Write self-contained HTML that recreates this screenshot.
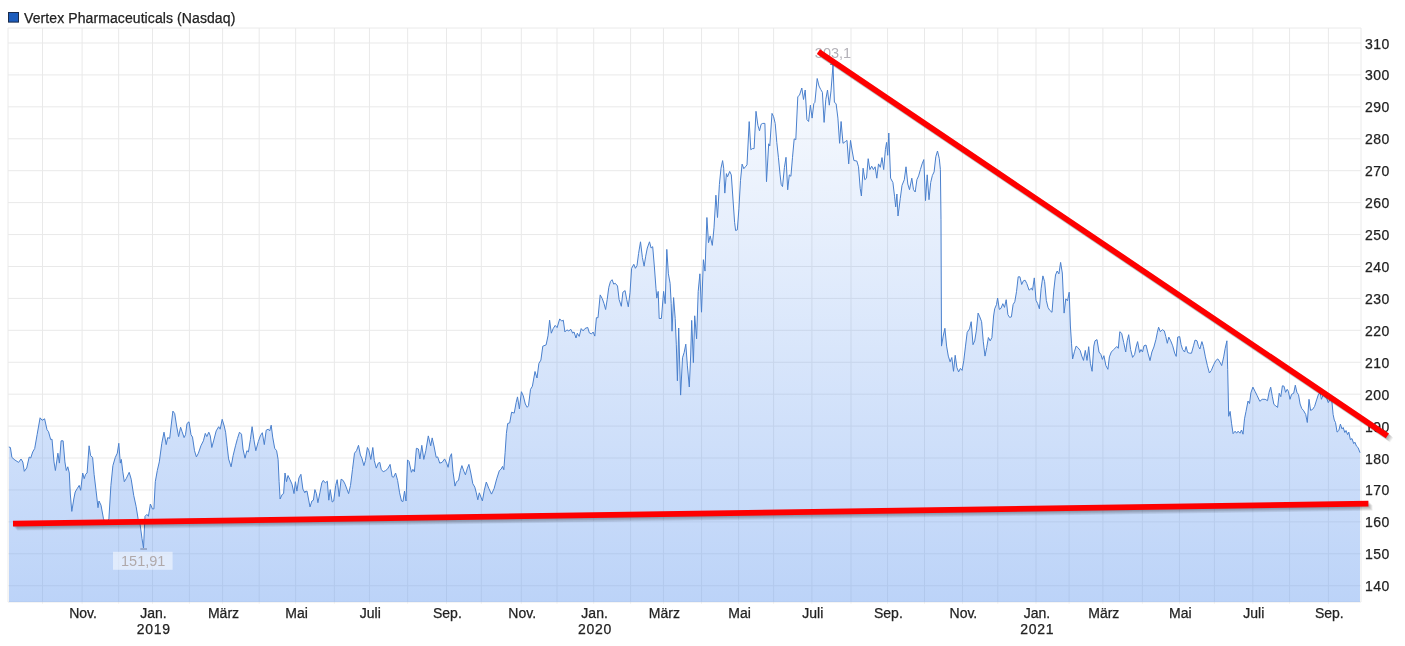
<!DOCTYPE html>
<html><head><meta charset="utf-8"><title>Vertex Pharmaceuticals (Nasdaq)</title>
<style>html,body{margin:0;padding:0;background:#fff}body{width:1405px;height:646px;overflow:hidden}svg{display:block;will-change:transform}text{font-family:"Liberation Sans",sans-serif}</style></head><body>
<svg width="1405" height="646" viewBox="0 0 1405 646">
<defs><linearGradient id="g" x1="0" y1="28" x2="0" y2="602" gradientUnits="userSpaceOnUse"><stop offset="0" stop-color="#6fa1f0" stop-opacity="0.012"/><stop offset="1" stop-color="#6fa1f0" stop-opacity="0.465"/></linearGradient>
</defs>
<rect width="1405" height="646" fill="#fff"/>
<path d="M42.5 28V603.5M82.1 28V603.5M118.65 28V603.5M152.5 28V603.5M189.4 28V603.5M222.6 28V603.5M259.2 28V603.5M295.65 28V603.5M334.35 28V603.5M369.45 28V603.5M407.65 28V603.5M446.5 28V603.5M481.3 28V603.5M521.3 28V603.5M557 28V603.5M593.7 28V603.5M630.6 28V603.5M663.45 28V603.5M701.55 28V603.5M738.6 28V603.5M773.6 28V603.5M811.9 28V603.5M851 28V603.5M887.55 28V603.5M924.5 28V603.5M962.45 28V603.5M997.8 28V603.5M1036 28V603.5M1069.1 28V603.5M1102.9 28V603.5M1142.35 28V603.5M1179.45 28V603.5M1214.4 28V603.5M1252.85 28V603.5M1289.55 28V603.5M1328.4 28V603.5M8 43.00H1361M8 74.92H1361M8 106.85H1361M8 138.78H1361M8 170.70H1361M8 202.62H1361M8 234.55H1361M8 266.48H1361M8 298.40H1361M8 330.32H1361M8 362.25H1361M8 394.18H1361M8 426.10H1361M8 458.03H1361M8 489.95H1361M8 521.88H1361M8 553.80H1361M8 585.73H1361" stroke="#e9e9e9" stroke-width="1" fill="none"/>
<path d="M8 28H1361V602H8Z" stroke="#eaeaea" stroke-width="1" fill="none"/>
<path d="M9 602 L9.0 447.0 8.9 447.0 L10.4 447.5 L11.9 457.4 L14.9 460.0 L18.6 462.4 L21.0 459.0 L22.8 462.0 L24.3 471.3 L26.7 468.0 L29.2 457.0 L30.7 458.0 L32.7 452.0 L34.7 448.5 L37.1 434.7 L40.1 417.8 L42.1 420.3 L44.6 418.8 L47.0 429.7 L48.5 431.7 L50.7 439.6 L52.0 439.2 L54.0 461.9 L55.4 470.5 L57.9 453.2 L59.4 463.1 L61.1 440.8 L63.1 440.8 L64.9 461.9 L66.3 470.5 L67.8 466.8 L69.3 473.0 L70.3 494.0 L71.8 511.4 L73.8 499.0 L75.2 492.0 L77.2 488.6 L79.2 485.4 L80.7 490.3 L82.7 473.0 L84.2 478.7 L85.6 474.3 L87.1 473.0 L88.1 459.4 L89.1 445.8 L90.6 455.7 L92.6 457.4 L94.1 474.3 L96.0 490.3 L98.0 507.7 L99.0 501.0 L101.0 505.2 L103.5 518.8 L106.0 524.0 L108.9 518.8 L110.9 485.4 L112.9 465.6 L115.3 457.4 L117.3 453.2 L118.8 443.3 L120.3 463.1 L121.3 459.4 L122.8 471.8 L124.3 481.7 L126.2 478.7 L129.2 472.3 L131.2 479.2 L133.7 495.3 L136.1 506.4 L138.1 518.8 L140.0 523.8 L142.0 538.6 L143.5 548.0 L145.0 516.3 L146.9 514.4 L148.4 516.3 L150.4 504.0 L152.4 508.9 L153.9 508.9 L155.3 481.7 L157.3 470.5 L159.3 461.9 L161.8 443.3 L164.0 432.2 L166.2 444.6 L167.7 437.6 L169.7 438.4 L171.7 421.0 L172.9 411.1 L174.7 413.6 L176.6 426.0 L178.6 436.6 L180.6 427.2 L182.1 431.7 L184.1 437.6 L185.5 434.7 L187.0 423.5 L189.0 421.8 L191.0 434.7 L192.5 437.1 L194.5 450.7 L196.4 456.9 L198.4 453.2 L200.9 445.8 L203.4 440.8 L205.3 433.4 L206.8 436.6 L208.8 432.2 L210.3 435.9 L211.8 447.5 L213.8 440.1 L216.2 430.9 L218.7 426.7 L220.2 429.2 L222.2 419.3 L224.2 426.0 L225.6 432.2 L227.1 445.8 L228.6 458.9 L231.1 466.8 L233.1 455.7 L235.5 445.8 L237.5 438.4 L239.5 432.2 L241.5 434.2 L243.0 449.0 L245.0 458.2 L246.9 450.7 L248.4 452.0 L250.4 439.6 L252.1 426.7 L253.9 439.6 L255.8 450.7 L258.3 441.6 L260.3 435.9 L262.3 432.7 L264.3 444.6 L266.2 430.2 L268.2 429.2 L269.7 430.9 L271.2 425.2 L272.7 437.1 L274.7 448.3 L276.6 450.7 L278.1 459.4 L279.1 481.7 L280.1 499.0 L282.1 494.6 L283.6 493.6 L285.0 473.0 L286.5 481.7 L288.0 475.5 L290.0 479.7 L292.0 484.2 L294.0 493.6 L295.4 481.7 L296.9 491.1 L298.9 478.0 L300.9 474.3 L302.9 489.1 L304.9 492.8 L305.0 491.6 L307.0 491.1 L308.5 499.0 L310.0 506.9 L311.9 501.0 L313.4 500.2 L314.9 489.6 L316.4 493.6 L317.9 502.7 L319.9 492.8 L321.8 482.9 L323.3 480.4 L325.3 482.9 L327.3 481.2 L328.8 500.2 L330.2 489.6 L332.2 502.0 L333.7 501.0 L335.7 485.4 L337.2 479.7 L339.2 496.5 L341.1 479.2 L343.1 480.4 L345.1 484.2 L347.1 489.6 L348.6 493.6 L350.5 485.4 L352.5 469.3 L354.5 453.2 L356.5 450.7 L358.5 445.3 L360.4 455.0 L361.9 458.2 L363.9 465.6 L365.4 460.6 L367.4 447.5 L368.9 450.7 L370.8 459.4 L372.8 447.5 L374.3 460.6 L376.3 468.1 L378.3 463.1 L379.8 462.4 L381.2 469.3 L383.2 471.8 L385.7 470.5 L387.7 468.8 L390.1 464.4 L392.1 476.7 L393.6 477.2 L395.6 473.0 L397.6 480.4 L399.6 492.8 L401.5 501.0 L403.0 501.5 L404.5 491.1 L406.0 501.0 L407.5 459.9 L409.0 461.4 L411.4 472.3 L412.9 469.3 L414.4 471.8 L416.4 448.3 L418.4 449.0 L419.9 458.9 L421.8 445.3 L423.8 459.4 L425.8 450.7 L428.3 435.9 L430.7 445.8 L432.2 437.9 L434.2 447.0 L436.2 457.4 L437.7 456.9 L439.7 463.1 L442.1 462.4 L444.6 458.9 L446.6 463.1 L448.1 467.3 L450.0 456.9 L451.5 453.7 L453.0 471.8 L455.0 486.1 L456.5 481.7 L458.5 480.4 L460.4 470.5 L461.9 465.6 L463.9 471.3 L465.4 474.8 L467.4 468.1 L468.9 464.4 L470.8 473.0 L472.8 483.7 L474.8 487.1 L476.3 492.8 L477.8 499.8 L479.3 492.8 L482.4 500.9 L484.3 490.2 L486.3 482.0 L488.9 488.6 L491.5 494.1 L494.1 488.6 L496.7 478.8 L499.3 470.7 L501.2 469.0 L502.5 466.4 L503.8 469.7 L505.1 452.8 L506.4 433.3 L507.7 423.5 L509.7 422.9 L511.6 412.2 L514.2 413.1 L516.2 402.4 L517.5 396.9 L519.4 408.9 L521.4 391.7 L523.3 395.9 L525.3 404.0 L527.2 407.3 L528.5 405.7 L530.5 389.4 L532.4 386.2 L535.0 371.5 L537.0 378.0 L538.9 363.4 L540.9 360.1 L542.8 346.2 L546.1 344.9 L548.0 335.8 L549.6 320.2 L551.3 333.2 L553.2 328.6 L555.2 325.4 L557.1 327.6 L559.7 318.9 L561.7 321.1 L563.3 320.2 L564.9 331.9 L566.9 329.9 L568.8 330.9 L570.8 329.3 L572.7 333.2 L574.0 331.9 L576.0 338.0 L577.3 333.2 L579.2 336.4 L581.2 328.6 L583.1 330.9 L585.0 328.5 L587.7 327.4 L589.3 332.8 L591.5 333.9 L593.1 332.0 L594.8 336.1 L596.4 317.7 L598.0 317.7 L600.2 294.9 L602.3 298.7 L604.0 303.6 L605.6 309.5 L607.2 299.5 L608.8 287.3 L610.5 281.4 L612.1 279.7 L613.7 284.1 L615.3 283.3 L617.5 286.0 L619.1 299.5 L621.3 306.3 L622.9 292.2 L625.1 290.6 L626.7 299.5 L628.3 306.8 L630.0 292.7 L631.6 268.3 L633.8 264.3 L635.4 268.3 L637.0 265.6 L638.6 253.4 L640.5 241.8 L642.4 257.5 L644.1 266.2 L645.7 256.2 L647.3 248.0 L649.5 241.8 L651.1 248.0 L652.7 246.7 L654.4 267.0 L656.0 288.7 L656.8 298.1 L658.2 291.4 L659.2 318.5 L661.4 318.5 L663.6 291.4 L665.2 303.6 L666.8 249.4 L668.4 273.8 L670.1 283.3 L671.2 303.6 L672.0 331.2 L673.6 297.6 L675.2 318.5 L676.3 344.2 L677.4 380.8 L678.7 328.0 L680.6 395.1 L682.5 357.8 L684.2 352.3 L685.8 344.2 L687.4 365.9 L689.3 387.0 L690.7 355.0 L691.7 320.4 L693.4 362.6 L694.7 315.8 L696.6 338.8 L698.2 291.4 L699.9 273.8 L701.5 312.2 L703.4 259.7 L705.0 271.1 L706.9 217.5 L708.5 242.7 L710.2 235.9 L712.3 245.4 L714.0 227.8 L715.9 195.2 L717.5 217.5 L719.4 184.4 L721.0 168.2 L722.6 160.6 L723.7 168.2 L724.8 193.1 L726.4 173.6 L727.5 176.8 L729.7 171.4 L731.3 174.9 L732.9 198.0 L734.6 222.3 L735.6 230.5 L737.3 229.9 L738.9 208.8 L740.5 180.3 L742.1 164.1 L743.8 168.7 L745.4 166.8 L747.0 164.9 L749.2 121.6 L750.8 149.7 L752.4 148.6 L754.1 148.6 L756.0 111.3 L757.9 125.3 L759.5 130.8 L761.1 124.3 L762.7 123.4 L764.9 123.4 L766.5 181.7 L768.7 143.8 L769.8 145.9 L772.0 113.4 L773.6 116.7 L775.2 123.4 L776.8 142.4 L778.4 157.3 L780.1 174.9 L781.2 184.4 L782.5 186.6 L784.4 167.6 L786.0 157.3 L787.7 189.8 L789.3 174.9 L790.9 176.3 L792.5 157.3 L794.2 138.9 L795.8 139.7 L797.8 96.6 L799.5 95.2 L801.8 88.0 L803.5 99.5 L805.2 90.0 L806.9 119.5 L808.6 121.5 L810.4 105.2 L812.1 118.1 L813.8 103.7 L814.9 102.3 L817.2 78.5 L819.0 86.0 L820.7 89.4 L822.4 92.3 L824.1 122.4 L825.8 99.5 L827.5 90.0 L829.3 105.2 L831.0 90.9 L833.0 65.1 L834.4 102.3 L836.1 103.7 L837.9 118.1 L839.6 143.3 L841.1 121.5 L843.0 143.3 L845.3 141.6 L847.0 140.4 L848.7 163.9 L850.5 140.4 L852.2 151.0 L853.9 160.5 L856.8 161.0 L858.5 166.8 L860.2 188.3 L861.4 196.0 L863.1 168.2 L864.8 179.7 L866.5 178.2 L868.2 158.7 L869.9 169.6 L871.7 166.2 L873.4 169.6 L875.1 166.8 L876.8 178.2 L878.5 163.9 L880.3 167.3 L882.0 157.6 L883.7 169.6 L885.4 149.6 L886.6 142.4 L887.7 155.3 L888.8 133.0 L890.6 178.2 L892.9 182.5 L894.6 196.8 L895.7 206.9 L896.9 194.0 L898.0 216.0 L900.3 198.3 L902.0 185.4 L904.3 179.7 L906.0 166.8 L907.8 184.0 L909.5 189.7 L911.8 178.2 L913.5 189.7 L915.2 192.0 L916.9 179.7 L918.6 175.9 L920.4 169.6 L922.1 163.9 L923.8 159.6 L925.5 200.6 L927.2 174.8 L929.0 199.7 L930.7 182.5 L932.4 175.4 L934.1 171.9 L935.8 156.7 L937.5 151.0 L939.3 158.7 L940.4 169.6 L941.0 219.8 L941.5 346.1 L943.2 336.1 L944.9 328.3 L946.6 346.1 L948.3 356.1 L950.1 361.8 L951.8 357.5 L953.5 371.3 L955.2 355.3 L956.9 367.6 L958.6 371.9 L960.4 368.4 L962.1 370.4 L963.8 360.4 L965.5 346.1 L967.2 332.3 L969.5 328.9 L971.2 321.7 L973.0 344.7 L974.7 340.9 L976.4 330.3 L978.1 313.1 L979.8 316.9 L981.6 321.7 L983.3 341.8 L985.0 356.1 L986.7 347.5 L988.4 337.5 L990.2 340.9 L991.9 337.5 L993.6 316.0 L994.7 308.8 L996.5 304.6 L997.6 298.0 L999.3 309.4 L1001.0 308.3 L1002.8 303.7 L1004.5 307.4 L1006.2 299.7 L1007.9 314.6 L1009.6 317.4 L1011.4 316.9 L1013.1 304.6 L1014.8 301.7 L1016.5 291.7 L1018.2 276.8 L1019.9 276.8 L1021.7 284.5 L1023.4 280.8 L1025.1 280.2 L1026.8 283.6 L1029.1 290.2 L1031.4 288.2 L1032.5 290.2 L1034.3 277.9 L1036.0 300.3 L1037.7 303.7 L1039.4 308.8 L1041.1 288.8 L1042.9 275.9 L1044.6 281.6 L1046.3 300.3 L1048.0 307.4 L1049.7 310.3 L1052.0 312.3 L1053.7 291.1 L1055.5 275.0 L1057.2 271.0 L1058.9 273.9 L1060.6 262.4 L1062.3 273.0 L1064.1 313.1 L1065.8 298.8 L1067.5 300.8 L1069.2 292.2 L1070.4 326.0 L1071.5 343.2 L1072.6 359.0 L1074.4 351.8 L1076.1 346.1 L1077.8 347.5 L1080.1 350.4 L1081.8 356.1 L1083.5 360.4 L1085.3 350.4 L1087.0 360.4 L1088.7 346.7 L1090.4 363.3 L1092.1 371.3 L1093.8 346.1 L1095.0 340.8 L1097.0 339.6 L1099.0 352.0 L1100.9 354.5 L1102.4 359.4 L1103.9 355.7 L1105.9 365.6 L1107.9 369.3 L1109.4 356.9 L1111.3 352.0 L1113.8 349.5 L1116.8 346.5 L1118.3 348.3 L1119.8 331.7 L1121.7 333.4 L1123.7 342.6 L1125.7 352.0 L1127.2 340.8 L1128.7 334.7 L1130.6 349.5 L1132.6 357.4 L1134.6 354.5 L1136.1 347.0 L1137.6 341.6 L1139.6 352.5 L1141.0 349.5 L1142.5 352.0 L1144.0 345.8 L1146.0 345.0 L1148.0 353.2 L1150.0 360.6 L1151.9 352.0 L1153.9 347.0 L1155.9 339.6 L1157.4 332.2 L1158.6 327.2 L1160.3 331.7 L1162.3 329.7 L1164.3 330.9 L1165.8 336.6 L1167.3 343.3 L1168.8 337.1 L1170.7 340.8 L1172.7 345.8 L1174.7 353.2 L1176.2 356.4 L1177.7 337.1 L1179.7 336.6 L1181.1 344.6 L1182.6 349.5 L1184.6 352.0 L1186.1 346.5 L1187.6 352.5 L1189.6 353.2 L1191.5 353.2 L1193.5 345.8 L1195.0 340.1 L1197.0 340.8 L1198.5 346.5 L1199.9 349.0 L1201.9 341.6 L1203.4 346.5 L1205.4 356.9 L1207.4 365.6 L1209.4 373.0 L1211.3 370.5 L1213.8 364.4 L1215.8 360.6 L1217.8 358.9 L1219.8 361.9 L1221.7 365.6 L1223.7 356.9 L1225.2 348.3 L1226.9 340.8 L1227.7 369.3 L1228.7 416.3 L1230.1 411.4 L1231.6 423.8 L1233.1 433.7 L1235.1 431.2 L1236.6 433.2 L1238.1 431.2 L1240.0 433.2 L1241.5 430.0 L1243.0 434.2 L1244.5 418.8 L1246.0 411.4 L1248.0 401.0 L1249.5 403.5 L1250.9 392.8 L1252.9 387.1 L1255.0 391.3 L1257.0 395.3 L1259.8 401.3 L1262.2 399.3 L1265.1 399.3 L1267.5 400.7 L1269.1 392.3 L1270.7 387.2 L1272.3 396.3 L1273.9 404.4 L1275.9 406.0 L1277.6 407.4 L1279.2 393.3 L1280.8 396.7 L1282.4 385.8 L1284.0 386.2 L1285.6 392.3 L1287.2 389.3 L1288.4 391.3 L1290.0 399.3 L1291.6 394.3 L1293.7 393.3 L1295.3 385.2 L1296.9 392.3 L1298.5 394.7 L1300.1 404.0 L1301.7 408.4 L1303.7 410.8 L1305.7 414.4 L1307.3 422.5 L1309.0 399.3 L1310.6 410.4 L1312.6 409.4 L1314.6 406.4 L1316.6 399.9 L1318.6 393.9 L1320.2 392.7 L1321.4 399.3 L1323.0 395.3 L1324.8 396.0 L1326.7 398.3 L1328.3 402.7 L1329.9 399.3 L1331.9 401.3 L1333.1 414.4 L1334.3 420.1 L1335.5 422.5 L1337.1 432.1 L1338.8 430.5 L1340.4 424.1 L1342.0 428.9 L1343.2 427.5 L1344.8 432.5 L1346.0 430.5 L1347.6 434.6 L1348.8 432.1 L1350.4 439.6 L1352.0 438.6 L1353.7 443.6 L1354.9 442.2 L1356.5 446.2 L1358.1 447.6 L1360.0 452.7 L1360.0 602 Z" fill="url(#g)"/>
<path d="M9 447.0 L8.9 447.0 L10.4 447.5 L11.9 457.4 L14.9 460.0 L18.6 462.4 L21.0 459.0 L22.8 462.0 L24.3 471.3 L26.7 468.0 L29.2 457.0 L30.7 458.0 L32.7 452.0 L34.7 448.5 L37.1 434.7 L40.1 417.8 L42.1 420.3 L44.6 418.8 L47.0 429.7 L48.5 431.7 L50.7 439.6 L52.0 439.2 L54.0 461.9 L55.4 470.5 L57.9 453.2 L59.4 463.1 L61.1 440.8 L63.1 440.8 L64.9 461.9 L66.3 470.5 L67.8 466.8 L69.3 473.0 L70.3 494.0 L71.8 511.4 L73.8 499.0 L75.2 492.0 L77.2 488.6 L79.2 485.4 L80.7 490.3 L82.7 473.0 L84.2 478.7 L85.6 474.3 L87.1 473.0 L88.1 459.4 L89.1 445.8 L90.6 455.7 L92.6 457.4 L94.1 474.3 L96.0 490.3 L98.0 507.7 L99.0 501.0 L101.0 505.2 L103.5 518.8 L106.0 524.0 L108.9 518.8 L110.9 485.4 L112.9 465.6 L115.3 457.4 L117.3 453.2 L118.8 443.3 L120.3 463.1 L121.3 459.4 L122.8 471.8 L124.3 481.7 L126.2 478.7 L129.2 472.3 L131.2 479.2 L133.7 495.3 L136.1 506.4 L138.1 518.8 L140.0 523.8 L142.0 538.6 L143.5 548.0 L145.0 516.3 L146.9 514.4 L148.4 516.3 L150.4 504.0 L152.4 508.9 L153.9 508.9 L155.3 481.7 L157.3 470.5 L159.3 461.9 L161.8 443.3 L164.0 432.2 L166.2 444.6 L167.7 437.6 L169.7 438.4 L171.7 421.0 L172.9 411.1 L174.7 413.6 L176.6 426.0 L178.6 436.6 L180.6 427.2 L182.1 431.7 L184.1 437.6 L185.5 434.7 L187.0 423.5 L189.0 421.8 L191.0 434.7 L192.5 437.1 L194.5 450.7 L196.4 456.9 L198.4 453.2 L200.9 445.8 L203.4 440.8 L205.3 433.4 L206.8 436.6 L208.8 432.2 L210.3 435.9 L211.8 447.5 L213.8 440.1 L216.2 430.9 L218.7 426.7 L220.2 429.2 L222.2 419.3 L224.2 426.0 L225.6 432.2 L227.1 445.8 L228.6 458.9 L231.1 466.8 L233.1 455.7 L235.5 445.8 L237.5 438.4 L239.5 432.2 L241.5 434.2 L243.0 449.0 L245.0 458.2 L246.9 450.7 L248.4 452.0 L250.4 439.6 L252.1 426.7 L253.9 439.6 L255.8 450.7 L258.3 441.6 L260.3 435.9 L262.3 432.7 L264.3 444.6 L266.2 430.2 L268.2 429.2 L269.7 430.9 L271.2 425.2 L272.7 437.1 L274.7 448.3 L276.6 450.7 L278.1 459.4 L279.1 481.7 L280.1 499.0 L282.1 494.6 L283.6 493.6 L285.0 473.0 L286.5 481.7 L288.0 475.5 L290.0 479.7 L292.0 484.2 L294.0 493.6 L295.4 481.7 L296.9 491.1 L298.9 478.0 L300.9 474.3 L302.9 489.1 L304.9 492.8 L305.0 491.6 L307.0 491.1 L308.5 499.0 L310.0 506.9 L311.9 501.0 L313.4 500.2 L314.9 489.6 L316.4 493.6 L317.9 502.7 L319.9 492.8 L321.8 482.9 L323.3 480.4 L325.3 482.9 L327.3 481.2 L328.8 500.2 L330.2 489.6 L332.2 502.0 L333.7 501.0 L335.7 485.4 L337.2 479.7 L339.2 496.5 L341.1 479.2 L343.1 480.4 L345.1 484.2 L347.1 489.6 L348.6 493.6 L350.5 485.4 L352.5 469.3 L354.5 453.2 L356.5 450.7 L358.5 445.3 L360.4 455.0 L361.9 458.2 L363.9 465.6 L365.4 460.6 L367.4 447.5 L368.9 450.7 L370.8 459.4 L372.8 447.5 L374.3 460.6 L376.3 468.1 L378.3 463.1 L379.8 462.4 L381.2 469.3 L383.2 471.8 L385.7 470.5 L387.7 468.8 L390.1 464.4 L392.1 476.7 L393.6 477.2 L395.6 473.0 L397.6 480.4 L399.6 492.8 L401.5 501.0 L403.0 501.5 L404.5 491.1 L406.0 501.0 L407.5 459.9 L409.0 461.4 L411.4 472.3 L412.9 469.3 L414.4 471.8 L416.4 448.3 L418.4 449.0 L419.9 458.9 L421.8 445.3 L423.8 459.4 L425.8 450.7 L428.3 435.9 L430.7 445.8 L432.2 437.9 L434.2 447.0 L436.2 457.4 L437.7 456.9 L439.7 463.1 L442.1 462.4 L444.6 458.9 L446.6 463.1 L448.1 467.3 L450.0 456.9 L451.5 453.7 L453.0 471.8 L455.0 486.1 L456.5 481.7 L458.5 480.4 L460.4 470.5 L461.9 465.6 L463.9 471.3 L465.4 474.8 L467.4 468.1 L468.9 464.4 L470.8 473.0 L472.8 483.7 L474.8 487.1 L476.3 492.8 L477.8 499.8 L479.3 492.8 L482.4 500.9 L484.3 490.2 L486.3 482.0 L488.9 488.6 L491.5 494.1 L494.1 488.6 L496.7 478.8 L499.3 470.7 L501.2 469.0 L502.5 466.4 L503.8 469.7 L505.1 452.8 L506.4 433.3 L507.7 423.5 L509.7 422.9 L511.6 412.2 L514.2 413.1 L516.2 402.4 L517.5 396.9 L519.4 408.9 L521.4 391.7 L523.3 395.9 L525.3 404.0 L527.2 407.3 L528.5 405.7 L530.5 389.4 L532.4 386.2 L535.0 371.5 L537.0 378.0 L538.9 363.4 L540.9 360.1 L542.8 346.2 L546.1 344.9 L548.0 335.8 L549.6 320.2 L551.3 333.2 L553.2 328.6 L555.2 325.4 L557.1 327.6 L559.7 318.9 L561.7 321.1 L563.3 320.2 L564.9 331.9 L566.9 329.9 L568.8 330.9 L570.8 329.3 L572.7 333.2 L574.0 331.9 L576.0 338.0 L577.3 333.2 L579.2 336.4 L581.2 328.6 L583.1 330.9 L585.0 328.5 L587.7 327.4 L589.3 332.8 L591.5 333.9 L593.1 332.0 L594.8 336.1 L596.4 317.7 L598.0 317.7 L600.2 294.9 L602.3 298.7 L604.0 303.6 L605.6 309.5 L607.2 299.5 L608.8 287.3 L610.5 281.4 L612.1 279.7 L613.7 284.1 L615.3 283.3 L617.5 286.0 L619.1 299.5 L621.3 306.3 L622.9 292.2 L625.1 290.6 L626.7 299.5 L628.3 306.8 L630.0 292.7 L631.6 268.3 L633.8 264.3 L635.4 268.3 L637.0 265.6 L638.6 253.4 L640.5 241.8 L642.4 257.5 L644.1 266.2 L645.7 256.2 L647.3 248.0 L649.5 241.8 L651.1 248.0 L652.7 246.7 L654.4 267.0 L656.0 288.7 L656.8 298.1 L658.2 291.4 L659.2 318.5 L661.4 318.5 L663.6 291.4 L665.2 303.6 L666.8 249.4 L668.4 273.8 L670.1 283.3 L671.2 303.6 L672.0 331.2 L673.6 297.6 L675.2 318.5 L676.3 344.2 L677.4 380.8 L678.7 328.0 L680.6 395.1 L682.5 357.8 L684.2 352.3 L685.8 344.2 L687.4 365.9 L689.3 387.0 L690.7 355.0 L691.7 320.4 L693.4 362.6 L694.7 315.8 L696.6 338.8 L698.2 291.4 L699.9 273.8 L701.5 312.2 L703.4 259.7 L705.0 271.1 L706.9 217.5 L708.5 242.7 L710.2 235.9 L712.3 245.4 L714.0 227.8 L715.9 195.2 L717.5 217.5 L719.4 184.4 L721.0 168.2 L722.6 160.6 L723.7 168.2 L724.8 193.1 L726.4 173.6 L727.5 176.8 L729.7 171.4 L731.3 174.9 L732.9 198.0 L734.6 222.3 L735.6 230.5 L737.3 229.9 L738.9 208.8 L740.5 180.3 L742.1 164.1 L743.8 168.7 L745.4 166.8 L747.0 164.9 L749.2 121.6 L750.8 149.7 L752.4 148.6 L754.1 148.6 L756.0 111.3 L757.9 125.3 L759.5 130.8 L761.1 124.3 L762.7 123.4 L764.9 123.4 L766.5 181.7 L768.7 143.8 L769.8 145.9 L772.0 113.4 L773.6 116.7 L775.2 123.4 L776.8 142.4 L778.4 157.3 L780.1 174.9 L781.2 184.4 L782.5 186.6 L784.4 167.6 L786.0 157.3 L787.7 189.8 L789.3 174.9 L790.9 176.3 L792.5 157.3 L794.2 138.9 L795.8 139.7 L797.8 96.6 L799.5 95.2 L801.8 88.0 L803.5 99.5 L805.2 90.0 L806.9 119.5 L808.6 121.5 L810.4 105.2 L812.1 118.1 L813.8 103.7 L814.9 102.3 L817.2 78.5 L819.0 86.0 L820.7 89.4 L822.4 92.3 L824.1 122.4 L825.8 99.5 L827.5 90.0 L829.3 105.2 L831.0 90.9 L833.0 65.1 L834.4 102.3 L836.1 103.7 L837.9 118.1 L839.6 143.3 L841.1 121.5 L843.0 143.3 L845.3 141.6 L847.0 140.4 L848.7 163.9 L850.5 140.4 L852.2 151.0 L853.9 160.5 L856.8 161.0 L858.5 166.8 L860.2 188.3 L861.4 196.0 L863.1 168.2 L864.8 179.7 L866.5 178.2 L868.2 158.7 L869.9 169.6 L871.7 166.2 L873.4 169.6 L875.1 166.8 L876.8 178.2 L878.5 163.9 L880.3 167.3 L882.0 157.6 L883.7 169.6 L885.4 149.6 L886.6 142.4 L887.7 155.3 L888.8 133.0 L890.6 178.2 L892.9 182.5 L894.6 196.8 L895.7 206.9 L896.9 194.0 L898.0 216.0 L900.3 198.3 L902.0 185.4 L904.3 179.7 L906.0 166.8 L907.8 184.0 L909.5 189.7 L911.8 178.2 L913.5 189.7 L915.2 192.0 L916.9 179.7 L918.6 175.9 L920.4 169.6 L922.1 163.9 L923.8 159.6 L925.5 200.6 L927.2 174.8 L929.0 199.7 L930.7 182.5 L932.4 175.4 L934.1 171.9 L935.8 156.7 L937.5 151.0 L939.3 158.7 L940.4 169.6 L941.0 219.8 L941.5 346.1 L943.2 336.1 L944.9 328.3 L946.6 346.1 L948.3 356.1 L950.1 361.8 L951.8 357.5 L953.5 371.3 L955.2 355.3 L956.9 367.6 L958.6 371.9 L960.4 368.4 L962.1 370.4 L963.8 360.4 L965.5 346.1 L967.2 332.3 L969.5 328.9 L971.2 321.7 L973.0 344.7 L974.7 340.9 L976.4 330.3 L978.1 313.1 L979.8 316.9 L981.6 321.7 L983.3 341.8 L985.0 356.1 L986.7 347.5 L988.4 337.5 L990.2 340.9 L991.9 337.5 L993.6 316.0 L994.7 308.8 L996.5 304.6 L997.6 298.0 L999.3 309.4 L1001.0 308.3 L1002.8 303.7 L1004.5 307.4 L1006.2 299.7 L1007.9 314.6 L1009.6 317.4 L1011.4 316.9 L1013.1 304.6 L1014.8 301.7 L1016.5 291.7 L1018.2 276.8 L1019.9 276.8 L1021.7 284.5 L1023.4 280.8 L1025.1 280.2 L1026.8 283.6 L1029.1 290.2 L1031.4 288.2 L1032.5 290.2 L1034.3 277.9 L1036.0 300.3 L1037.7 303.7 L1039.4 308.8 L1041.1 288.8 L1042.9 275.9 L1044.6 281.6 L1046.3 300.3 L1048.0 307.4 L1049.7 310.3 L1052.0 312.3 L1053.7 291.1 L1055.5 275.0 L1057.2 271.0 L1058.9 273.9 L1060.6 262.4 L1062.3 273.0 L1064.1 313.1 L1065.8 298.8 L1067.5 300.8 L1069.2 292.2 L1070.4 326.0 L1071.5 343.2 L1072.6 359.0 L1074.4 351.8 L1076.1 346.1 L1077.8 347.5 L1080.1 350.4 L1081.8 356.1 L1083.5 360.4 L1085.3 350.4 L1087.0 360.4 L1088.7 346.7 L1090.4 363.3 L1092.1 371.3 L1093.8 346.1 L1095.0 340.8 L1097.0 339.6 L1099.0 352.0 L1100.9 354.5 L1102.4 359.4 L1103.9 355.7 L1105.9 365.6 L1107.9 369.3 L1109.4 356.9 L1111.3 352.0 L1113.8 349.5 L1116.8 346.5 L1118.3 348.3 L1119.8 331.7 L1121.7 333.4 L1123.7 342.6 L1125.7 352.0 L1127.2 340.8 L1128.7 334.7 L1130.6 349.5 L1132.6 357.4 L1134.6 354.5 L1136.1 347.0 L1137.6 341.6 L1139.6 352.5 L1141.0 349.5 L1142.5 352.0 L1144.0 345.8 L1146.0 345.0 L1148.0 353.2 L1150.0 360.6 L1151.9 352.0 L1153.9 347.0 L1155.9 339.6 L1157.4 332.2 L1158.6 327.2 L1160.3 331.7 L1162.3 329.7 L1164.3 330.9 L1165.8 336.6 L1167.3 343.3 L1168.8 337.1 L1170.7 340.8 L1172.7 345.8 L1174.7 353.2 L1176.2 356.4 L1177.7 337.1 L1179.7 336.6 L1181.1 344.6 L1182.6 349.5 L1184.6 352.0 L1186.1 346.5 L1187.6 352.5 L1189.6 353.2 L1191.5 353.2 L1193.5 345.8 L1195.0 340.1 L1197.0 340.8 L1198.5 346.5 L1199.9 349.0 L1201.9 341.6 L1203.4 346.5 L1205.4 356.9 L1207.4 365.6 L1209.4 373.0 L1211.3 370.5 L1213.8 364.4 L1215.8 360.6 L1217.8 358.9 L1219.8 361.9 L1221.7 365.6 L1223.7 356.9 L1225.2 348.3 L1226.9 340.8 L1227.7 369.3 L1228.7 416.3 L1230.1 411.4 L1231.6 423.8 L1233.1 433.7 L1235.1 431.2 L1236.6 433.2 L1238.1 431.2 L1240.0 433.2 L1241.5 430.0 L1243.0 434.2 L1244.5 418.8 L1246.0 411.4 L1248.0 401.0 L1249.5 403.5 L1250.9 392.8 L1252.9 387.1 L1255.0 391.3 L1257.0 395.3 L1259.8 401.3 L1262.2 399.3 L1265.1 399.3 L1267.5 400.7 L1269.1 392.3 L1270.7 387.2 L1272.3 396.3 L1273.9 404.4 L1275.9 406.0 L1277.6 407.4 L1279.2 393.3 L1280.8 396.7 L1282.4 385.8 L1284.0 386.2 L1285.6 392.3 L1287.2 389.3 L1288.4 391.3 L1290.0 399.3 L1291.6 394.3 L1293.7 393.3 L1295.3 385.2 L1296.9 392.3 L1298.5 394.7 L1300.1 404.0 L1301.7 408.4 L1303.7 410.8 L1305.7 414.4 L1307.3 422.5 L1309.0 399.3 L1310.6 410.4 L1312.6 409.4 L1314.6 406.4 L1316.6 399.9 L1318.6 393.9 L1320.2 392.7 L1321.4 399.3 L1323.0 395.3 L1324.8 396.0 L1326.7 398.3 L1328.3 402.7 L1329.9 399.3 L1331.9 401.3 L1333.1 414.4 L1334.3 420.1 L1335.5 422.5 L1337.1 432.1 L1338.8 430.5 L1340.4 424.1 L1342.0 428.9 L1343.2 427.5 L1344.8 432.5 L1346.0 430.5 L1347.6 434.6 L1348.8 432.1 L1350.4 439.6 L1352.0 438.6 L1353.7 443.6 L1354.9 442.2 L1356.5 446.2 L1358.1 447.6 L1360.0 452.7" fill="none" stroke="#4a80cd" stroke-width="1" stroke-linejoin="round"/>
<path d="M140.3 549H147M830 64.3H836.7" stroke="#6f7f9f" stroke-width="1.1"/>
<rect x="113" y="551.8" width="59.6" height="18" fill="#fff" fill-opacity="0.5"/>
<text x="143.2" y="565.7" font-size="14.5" fill="#b0a9aa" text-anchor="middle">151,91</text>
<text x="833" y="58.4" font-size="14.5" fill="#b3b1b8" text-anchor="middle">303,1</text>
<text x="1365.1" y="48.5" font-size="14" fill="#222" textLength="24.3" lengthAdjust="spacing" stroke="#222" stroke-width="0.25">310</text>
<text x="1365.1" y="80.4" font-size="14" fill="#222" textLength="24.3" lengthAdjust="spacing" stroke="#222" stroke-width="0.25">300</text>
<text x="1365.1" y="112.3" font-size="14" fill="#222" textLength="24.3" lengthAdjust="spacing" stroke="#222" stroke-width="0.25">290</text>
<text x="1365.1" y="144.3" font-size="14" fill="#222" textLength="24.3" lengthAdjust="spacing" stroke="#222" stroke-width="0.25">280</text>
<text x="1365.1" y="176.2" font-size="14" fill="#222" textLength="24.3" lengthAdjust="spacing" stroke="#222" stroke-width="0.25">270</text>
<text x="1365.1" y="208.1" font-size="14" fill="#222" textLength="24.3" lengthAdjust="spacing" stroke="#222" stroke-width="0.25">260</text>
<text x="1365.1" y="240.1" font-size="14" fill="#222" textLength="24.3" lengthAdjust="spacing" stroke="#222" stroke-width="0.25">250</text>
<text x="1365.1" y="272.0" font-size="14" fill="#222" textLength="24.3" lengthAdjust="spacing" stroke="#222" stroke-width="0.25">240</text>
<text x="1365.1" y="303.9" font-size="14" fill="#222" textLength="24.3" lengthAdjust="spacing" stroke="#222" stroke-width="0.25">230</text>
<text x="1365.1" y="335.8" font-size="14" fill="#222" textLength="24.3" lengthAdjust="spacing" stroke="#222" stroke-width="0.25">220</text>
<text x="1365.1" y="367.8" font-size="14" fill="#222" textLength="24.3" lengthAdjust="spacing" stroke="#222" stroke-width="0.25">210</text>
<text x="1365.1" y="399.7" font-size="14" fill="#222" textLength="24.3" lengthAdjust="spacing" stroke="#222" stroke-width="0.25">200</text>
<text x="1365.1" y="431.6" font-size="14" fill="#222" textLength="24.3" lengthAdjust="spacing" stroke="#222" stroke-width="0.25">190</text>
<text x="1365.1" y="463.5" font-size="14" fill="#222" textLength="24.3" lengthAdjust="spacing" stroke="#222" stroke-width="0.25">180</text>
<text x="1365.1" y="495.4" font-size="14" fill="#222" textLength="24.3" lengthAdjust="spacing" stroke="#222" stroke-width="0.25">170</text>
<text x="1365.1" y="527.4" font-size="14" fill="#222" textLength="24.3" lengthAdjust="spacing" stroke="#222" stroke-width="0.25">160</text>
<text x="1365.1" y="559.3" font-size="14" fill="#222" textLength="24.3" lengthAdjust="spacing" stroke="#222" stroke-width="0.25">150</text>
<text x="1365.1" y="591.2" font-size="14" fill="#222" textLength="24.3" lengthAdjust="spacing" stroke="#222" stroke-width="0.25">140</text>
<text x="83.0" y="618" font-size="14" fill="#222" text-anchor="middle" stroke="#222" stroke-width="0.25">Nov.</text>
<text x="153.4" y="618" font-size="14" fill="#222" text-anchor="middle" stroke="#222" stroke-width="0.25">Jan.</text>
<text x="153.4" y="634.1" font-size="14" fill="#222" text-anchor="middle" textLength="33.2" lengthAdjust="spacing" stroke="#222" stroke-width="0.25">2019</text>
<text x="223.5" y="618" font-size="14" fill="#222" text-anchor="middle" stroke="#222" stroke-width="0.25">März</text>
<text x="296.5" y="618" font-size="14" fill="#222" text-anchor="middle" stroke="#222" stroke-width="0.25">Mai</text>
<text x="370.3" y="618" font-size="14" fill="#222" text-anchor="middle" stroke="#222" stroke-width="0.25">Juli</text>
<text x="447.4" y="618" font-size="14" fill="#222" text-anchor="middle" stroke="#222" stroke-width="0.25">Sep.</text>
<text x="522.2" y="618" font-size="14" fill="#222" text-anchor="middle" stroke="#222" stroke-width="0.25">Nov.</text>
<text x="594.6" y="618" font-size="14" fill="#222" text-anchor="middle" stroke="#222" stroke-width="0.25">Jan.</text>
<text x="594.6" y="634.1" font-size="14" fill="#222" text-anchor="middle" textLength="33.2" lengthAdjust="spacing" stroke="#222" stroke-width="0.25">2020</text>
<text x="664.4" y="618" font-size="14" fill="#222" text-anchor="middle" stroke="#222" stroke-width="0.25">März</text>
<text x="739.5" y="618" font-size="14" fill="#222" text-anchor="middle" stroke="#222" stroke-width="0.25">Mai</text>
<text x="812.8" y="618" font-size="14" fill="#222" text-anchor="middle" stroke="#222" stroke-width="0.25">Juli</text>
<text x="888.4" y="618" font-size="14" fill="#222" text-anchor="middle" stroke="#222" stroke-width="0.25">Sep.</text>
<text x="963.4" y="618" font-size="14" fill="#222" text-anchor="middle" stroke="#222" stroke-width="0.25">Nov.</text>
<text x="1036.9" y="618" font-size="14" fill="#222" text-anchor="middle" stroke="#222" stroke-width="0.25">Jan.</text>
<text x="1036.9" y="634.1" font-size="14" fill="#222" text-anchor="middle" textLength="33.2" lengthAdjust="spacing" stroke="#222" stroke-width="0.25">2021</text>
<text x="1103.8" y="618" font-size="14" fill="#222" text-anchor="middle" stroke="#222" stroke-width="0.25">März</text>
<text x="1180.4" y="618" font-size="14" fill="#222" text-anchor="middle" stroke="#222" stroke-width="0.25">Mai</text>
<text x="1253.8" y="618" font-size="14" fill="#222" text-anchor="middle" stroke="#222" stroke-width="0.25">Juli</text>
<text x="1329.3" y="618" font-size="14" fill="#222" text-anchor="middle" stroke="#222" stroke-width="0.25">Sep.</text>
<rect x="8.5" y="12.5" width="10" height="9.6" fill="#1c5cbc" stroke="#1a2b4c" stroke-width="1"/>
<text x="24" y="22.5" font-size="14" fill="#222" textLength="211.3" lengthAdjust="spacing" stroke="#222" stroke-width="0.25">Vertex Pharmaceuticals (Nasdaq)</text>
<g stroke="#10181c" stroke-opacity="0.04" stroke-width="5.7" fill="none"><line x1="13" y1="523.6" x2="1368.4" y2="503.7" transform="translate(0.43 0.43)"/><line x1="13" y1="523.6" x2="1368.4" y2="503.7" transform="translate(0.86 0.86)"/><line x1="13" y1="523.6" x2="1368.4" y2="503.7" transform="translate(1.29 1.29)"/><line x1="13" y1="523.6" x2="1368.4" y2="503.7" transform="translate(1.72 1.72)"/><line x1="13" y1="523.6" x2="1368.4" y2="503.7" transform="translate(2.15 2.15)"/><line x1="13" y1="523.6" x2="1368.4" y2="503.7" transform="translate(2.58 2.58)"/><line x1="13" y1="523.6" x2="1368.4" y2="503.7" transform="translate(3.01 3.01)"/><line x1="13" y1="523.6" x2="1368.4" y2="503.7" transform="translate(3.44 3.44)"/><line x1="13" y1="523.6" x2="1368.4" y2="503.7" transform="translate(3.87 3.87)"/><line x1="13" y1="523.6" x2="1368.4" y2="503.7" transform="translate(4.3 4.3)"/></g>
<line x1="13" y1="523.6" x2="1368.4" y2="503.7" stroke="#fe0000" stroke-width="5.7"/>
<g stroke="#10181c" stroke-opacity="0.04" stroke-width="5.7" fill="none"><line x1="818.4" y1="51.7" x2="1387.4" y2="435.8" transform="translate(0.43 0.43)"/><line x1="818.4" y1="51.7" x2="1387.4" y2="435.8" transform="translate(0.86 0.86)"/><line x1="818.4" y1="51.7" x2="1387.4" y2="435.8" transform="translate(1.29 1.29)"/><line x1="818.4" y1="51.7" x2="1387.4" y2="435.8" transform="translate(1.72 1.72)"/><line x1="818.4" y1="51.7" x2="1387.4" y2="435.8" transform="translate(2.15 2.15)"/><line x1="818.4" y1="51.7" x2="1387.4" y2="435.8" transform="translate(2.58 2.58)"/><line x1="818.4" y1="51.7" x2="1387.4" y2="435.8" transform="translate(3.01 3.01)"/><line x1="818.4" y1="51.7" x2="1387.4" y2="435.8" transform="translate(3.44 3.44)"/><line x1="818.4" y1="51.7" x2="1387.4" y2="435.8" transform="translate(3.87 3.87)"/><line x1="818.4" y1="51.7" x2="1387.4" y2="435.8" transform="translate(4.3 4.3)"/></g>
<line x1="818.4" y1="51.7" x2="1387.4" y2="435.8" stroke="#fe0000" stroke-width="5.7"/>
</svg></body></html>
